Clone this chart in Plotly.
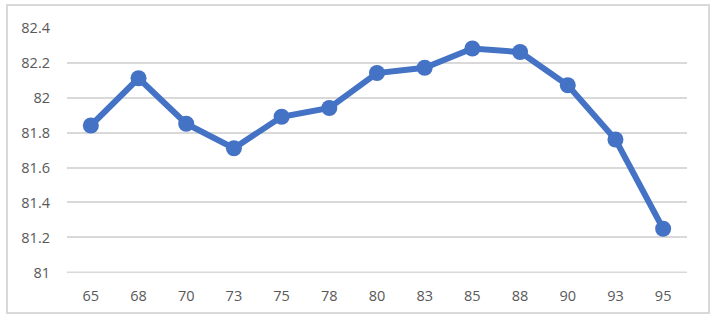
import plotly.graph_objects as go

categories = ["65", "68", "70", "73", "75", "78", "80", "83", "85", "88", "90", "93", "95"]
values = [81.84, 82.11, 81.85, 81.71, 81.89, 81.94, 82.14, 82.17, 82.28, 82.26, 82.07, 81.76, 81.25]
y_tickvals = [81, 81.2, 81.4, 81.6, 81.8, 82, 82.2, 82.4]
y_ticktext = ["81", "81.2", "81.4", "81.6", "81.8", "82", "82.2", "82.4"]

fig = go.Figure()
fig.add_trace(go.Scatter(
    x=categories, y=values, mode="lines+markers",
    line=dict(color="#4472C4", width=6),
    marker=dict(color="#4472C4", size=16),
    cliponaxis=False, showlegend=False,
))

font = dict(family="Open Sans, Liberation Sans, sans-serif", size=14.5, color="#595959")
fig.update_layout(
    width=719, height=318,
    margin=dict(l=67, r=32, t=27, b=45),
    paper_bgcolor="white", plot_bgcolor="white",
    font=font,
    xaxis=dict(type="category", range=[-0.5, len(categories) - 0.5],
               showgrid=False, zeroline=False, showline=False,
               ticks="", tickfont=font, ticklabelstandoff=12),
    yaxis=dict(range=[80.997, 82.403], tickvals=y_tickvals, ticktext=y_ticktext,
               showgrid=True, gridcolor="#d9d9d9", gridwidth=2, zeroline=False,
               showline=False, ticks="", tickfont=font, ticklabelstandoff=16),
    shapes=[
        dict(type="rect", xref="paper", yref="paper",
             x0=-60/620, x1=1 + 22/620, y0=-40/246, y1=1 + 22/246,
             line=dict(color="#d9d9d9", width=2), layer="below"),
        dict(type="line", xref="paper", yref="y", x0=0, x1=1,
             y0=y_tickvals[0], y1=y_tickvals[0],
             line=dict(color="#d9d9d9", width=2), layer="below"),
    ],
)

fig.write_html("out.html")
